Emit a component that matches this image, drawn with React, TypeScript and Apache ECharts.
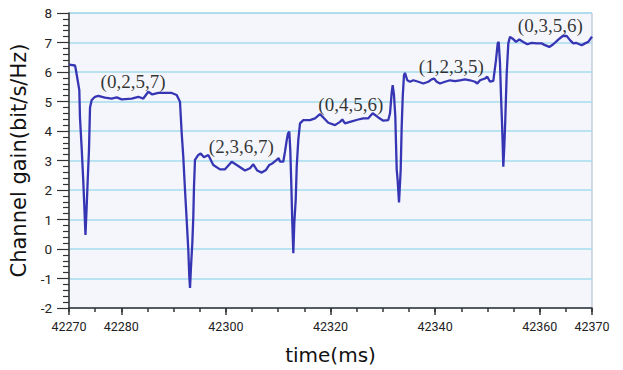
import React, { useEffect, useRef } from "react";
import * as echarts from "echarts";

const times: number[] = [
  42270.0, 42271.15, 42271.34, 42271.97, 42272.1, 42272.43, 42272.73, 42272.93, 42273.15, 42273.38,
  42273.58, 42273.82, 42274.02, 42274.34, 42274.97, 42275.6, 42276.88, 42278.16, 42279.12, 42280.08,
  42281.99, 42283.25, 42284.21, 42285.16, 42285.93, 42287.07, 42289.64, 42290.59, 42291.22, 42291.55,
  42291.85, 42292.18, 42292.5, 42292.81, 42293.0, 42293.14, 42293.33, 42293.58, 42293.77, 42293.9,
  42294.09, 42294.72, 42295.18, 42295.81, 42296.63, 42297.59, 42298.87, 42299.83, 42301.11, 42302.07,
  42303.65, 42304.61, 42305.24, 42306.0, 42306.84, 42307.67, 42308.3, 42308.95, 42309.71, 42310.1,
  42310.34, 42310.97, 42311.3, 42311.63, 42311.87, 42312.12, 42312.31, 42312.5, 42312.7, 42312.89,
  42313.08, 42313.35, 42313.54, 42313.84, 42314.17, 42314.8, 42316.08, 42317.04, 42317.99, 42318.62,
  42319.58, 42320.86, 42321.82, 42322.26, 42322.77, 42323.73, 42325.32, 42326.27, 42327.23, 42328.07,
  42329.14, 42330.1, 42331.05, 42331.38, 42331.7, 42331.89, 42332.14, 42332.39, 42332.52, 42332.66,
  42332.85, 42333.1, 42333.42, 42333.61, 42333.81, 42334.05, 42334.24, 42334.68, 42335.2, 42335.83,
  42336.79, 42337.74, 42338.7, 42339.35, 42339.79, 42340.31, 42340.94, 42341.89, 42342.85, 42343.8,
  42344.76, 42345.72, 42346.67, 42347.63, 42348.07, 42348.59, 42349.54, 42349.98, 42350.5, 42351.13,
  42351.64, 42351.97, 42352.16, 42352.41, 42352.6, 42352.79, 42352.93, 42353.04, 42353.23, 42353.42,
  42353.69, 42354.0, 42354.32, 42354.84, 42355.47, 42356.1, 42356.86, 42357.63, 42358.47, 42359.43,
  42360.38, 42361.01, 42361.84, 42362.6, 42363.56, 42364.4, 42365.16, 42365.79, 42366.43, 42366.94,
  42367.57, 42368.03, 42368.66, 42369.29, 42370.0,
];

const gains: number[] = [
  6.25, 6.22, 6.05, 5.39, 4.45, 3.4, 2.3, 1.44, 0.48, 1.44,
  2.34, 3.36, 4.8, 5.05, 5.16, 5.19, 5.13, 5.1, 5.14, 5.07,
  5.1, 5.16, 5.1, 5.33, 5.24, 5.29, 5.29, 5.22, 4.99, 3.92,
  3.13, 2.0, 0.99, -0.02, -0.93, -1.32, -0.59, 0.2, 1.1, 2.12,
  3.02, 3.19, 3.24, 3.11, 3.19, 2.85, 2.7, 2.7, 2.96, 2.85,
  2.66, 2.74, 2.87, 2.66, 2.59, 2.68, 2.85, 2.91, 3.02, 3.08,
  2.96, 2.96, 3.3, 3.69, 3.92, 3.98, 3.36, 2.23, 0.88, -0.14,
  0.88, 1.67, 2.79, 3.69, 4.26, 4.37, 4.37, 4.43, 4.57, 4.46,
  4.28, 4.2, 4.31, 4.39, 4.26, 4.31, 4.39, 4.43, 4.43, 4.6,
  4.46, 4.35, 4.37, 4.6, 5.3, 5.55, 5.22, 4.5, 3.6, 2.7,
  2.3, 1.58, 2.68, 4.14, 5.16, 5.89, 5.97, 5.72, 5.67, 5.72,
  5.67, 5.61, 5.67, 5.75, 5.78, 5.67, 5.61, 5.67, 5.72, 5.69,
  5.72, 5.75, 5.72, 5.67, 5.61, 5.72, 5.78, 5.84, 5.67, 5.7,
  6.4, 6.97, 7.02, 6.3, 5.2, 4.3, 3.5, 2.79, 3.47, 4.37,
  5.95, 6.97, 7.19, 7.13, 7.02, 7.1, 7.02, 6.94, 6.99, 6.97,
  6.97, 6.91, 6.85, 6.94, 7.1, 7.22, 7.22, 7.08, 6.97, 6.99,
  6.94, 6.91, 6.97, 7.02, 7.2,
];

const xLabelTicks: number[] = [42270, 42280, 42300, 42320, 42340, 42360, 42370];

const annotationTexts: string[] = ["(0,2,5,7)", "(2,3,6,7)", "(0,4,5,6)", "(1,2,3,5)", "(0,3,5,6)"];
const annotationTimes: number[] = [42282.24, 42302.94, 42323.88, 42343.1, 42362.03];
const annotationGains: number[] = [5.67, 3.49, 4.9, 6.2, 7.56];

const X_MIN = 42270;
const X_MAX = 42370;
const Y_MIN = -2;
const Y_MAX = 8;

export default function App() {
  const ref = useRef<HTMLDivElement>(null);

  useEffect(() => {
    if (!ref.current) return;
    const chart = echarts.init(ref.current, null, { renderer: "svg" });
    const lineData = times.map((t, i) => [t, gains[i]]);
    const annData = annotationTexts.map((s, i) => [annotationTimes[i], annotationGains[i], s]);
    const axisColor = "#333333";
    const tickFont = { fontFamily: "Roboto", fontSize: 12.5, color: "#222222" };

    chart.setOption({
      animation: false,
      backgroundColor: "#ffffff",
      grid: {
        left: 69,
        right: 31,
        top: 13,
        bottom: 61,
        show: true,
        backgroundColor: "#f5f6fb",
        borderColor: "#a7b4cb",
        borderWidth: 1,
      },
      xAxis: [
        {
          type: "value",
          min: X_MIN,
          max: X_MAX,
          interval: 10,
          position: "bottom",
          name: "time(ms)",
          nameLocation: "middle",
          nameGap: 37,
          nameTextStyle: { fontFamily: "DejaVu Sans", fontSize: 20, color: "#111111" },
          axisLine: { show: true, onZero: false, lineStyle: { color: axisColor, width: 1.5 } },
          axisTick: { show: true, length: 7, customValues: xLabelTicks, lineStyle: { color: axisColor, width: 1.5 } },
          axisLabel: {
            show: true,
            margin: 12,
            customValues: xLabelTicks,
            formatter: (v: number) => String(v),
            ...tickFont,
          },
          splitLine: { show: false },
        },
        {
          type: "value",
          min: X_MIN,
          max: X_MAX,
          interval: 5,
          position: "bottom",
          axisLine: { show: false, onZero: false },
          axisTick: { show: true, length: 4, lineStyle: { color: axisColor, width: 1.5 } },
          axisLabel: { show: false },
          splitLine: { show: false },
        },
      ],
      yAxis: {
        type: "value",
        min: Y_MIN,
        max: Y_MAX,
        interval: 1,
        name: "Channel gain(bit/s/Hz)",
        nameLocation: "middle",
        nameGap: 32,
        nameTextStyle: { fontFamily: "DejaVu Sans", fontSize: 21, color: "#111111" },
        axisLine: { show: true, onZero: false, lineStyle: { color: axisColor, width: 1.5 } },
        axisTick: { show: true, length: 12, lineStyle: { color: axisColor, width: 1.2 } },
        minorTick: { show: true, splitNumber: 5, length: 6, lineStyle: { color: axisColor, width: 1.2 } },
        axisLabel: { show: true, margin: 17, ...tickFont, fontSize: 13.5 },
        splitLine: { show: true, lineStyle: { color: "#a6dcef", width: 1.5 } },
      },
      series: [
        {
          type: "line",
          xAxisIndex: 0,
          data: lineData,
          showSymbol: false,
          symbol: "none",
          lineStyle: { color: "#3636b4", width: 2.3 },
          silent: true,
        },
        {
          type: "scatter",
          xAxisIndex: 0,
          data: annData,
          symbolSize: 0,
          silent: true,
          label: {
            show: true,
            position: "inside",
            formatter: (p: any) => p.data[2],
            fontFamily: "Liberation Serif",
            fontSize: 19,
            color: "#000000",
            textBorderWidth: 0,
          },
        },
      ],
    });

    return () => chart.dispose();
  }, []);

  return (
    <div
      ref={ref}
      style={{ position: "absolute", left: 0, top: 0, width: 623, height: 370, background: "#ffffff" }}
    />
  );
}
